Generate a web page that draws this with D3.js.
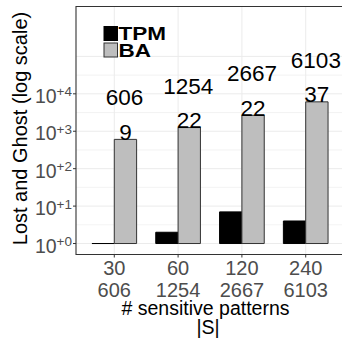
<!DOCTYPE html>
<html>
<head>
<meta charset="utf-8">
<script src="https://cdn.jsdelivr.net/npm/d3@7"></script>
<style>
  html, body { margin: 0; padding: 0; background: #fff; }
  svg { display: block; font-family: "Liberation Sans", Arial, Helvetica, sans-serif; }
</style>
</head>
<body>
<svg id="chart" width="342" height="339"></svg>
<script>
// ---- data ----
const categories = ["30", "60", "120", "240"];
const sizeLabels = ["606", "1254", "2667", "6103"];
const tpmValues = [1, 2, 7, 4];
const baValues = [606, 1254, 2667, 6103];
const ghostLabels = ["9", "22", "22", "37"];
const totalLabels = ["606", "1254", "2667", "6103"];
const yTickValues = [1, 10, 100, 1000, 10000];
const yTickExps = ["+0", "+1", "+2", "+3", "+4"];
const seriesNames = ["TPM", "BA"];

// ---- layout ----
const svg = d3.select("#chart");
const panel = { left: 76, right: 344, top: 6.5, bottom: 254.5 };
const gridColor = "#ebebeb";
const tickTextColor = "#4d4d4d";

const x = d3.scaleBand().domain(categories)
  .range([panel.left, panel.right]).paddingInner(0).paddingOuter(0.1);
const y = d3.scaleLog()
  .domain([Math.pow(10, -11 / 37.5), Math.pow(10, 237.5 / 37.5)])
  .range([panel.bottom, panel.top]);
const barW = x.step() * 0.35;
const xc = c => x(c) + x.bandwidth() / 2;

// grid
const g = svg.append("g");
const gridExps = d3.range(0, 5.01, 0.5);
g.selectAll("line.hgrid").data(gridExps).enter().append("line")
  .attr("x1", panel.left).attr("x2", panel.right)
  .attr("y1", e => y(Math.pow(10, e))).attr("y2", e => y(Math.pow(10, e)))
  .attr("stroke", gridColor).attr("stroke-width", e => Number.isInteger(e) ? 1 : 0.6);
g.selectAll("line.vgrid").data(categories).enter().append("line")
  .attr("x1", d => xc(d)).attr("x2", d => xc(d))
  .attr("y1", panel.top).attr("y2", panel.bottom)
  .attr("stroke", gridColor).attr("stroke-width", 1);

// bars
function barPath(x0, w, v) {
  const y0 = y(1), y1 = y(v);
  return `M${x0},${y0}V${y1}H${x0 + w}V${y0}Z`;
}
g.selectAll("path.tpm").data(categories).enter().append("path")
  .attr("d", (c, i) => barPath(xc(c) - barW, barW, tpmValues[i]))
  .attr("fill", "#000").attr("stroke", "#000").attr("stroke-width", 1);
g.selectAll("path.ba").data(categories).enter().append("path")
  .attr("d", (c, i) => barPath(xc(c), barW, baValues[i]))
  .attr("fill", "#bebebe").attr("stroke", "#333").attr("stroke-width", 1);

// value labels
g.selectAll("text.ghost").data(categories).enter().append("text")
  .attr("x", c => xc(c) + barW / 2)
  .attr("y", (c, i) => y(baValues[i]) + 0.5)
  .attr("text-anchor", "middle").attr("font-size", 22.5).attr("fill", "#000")
  .text((c, i) => ghostLabels[i]);
g.selectAll("text.total").data(categories).enter().append("text")
  .attr("x", c => xc(c) + barW / 2 - 1)
  .attr("y", (c, i) => y(baValues[i]) - 34)
  .attr("text-anchor", "middle").attr("font-size", 22.5).attr("fill", "#000")
  .text((c, i) => totalLabels[i]);

// panel border (left, top, bottom)
svg.append("path")
  .attr("d", `M${panel.right},${panel.top}H${panel.left}V${panel.bottom}H${panel.right}`)
  .attr("fill", "none").attr("stroke", "#333").attr("stroke-width", 1.1);

// y axis ticks + labels
const ya = svg.append("g");
yTickValues.forEach((v, i) => {
  const yy = y(v);
  ya.append("line").attr("x1", panel.left - 3).attr("x2", panel.left)
    .attr("y1", yy).attr("y2", yy).attr("stroke", "#333").attr("stroke-width", 1);
  const t = ya.append("text").attr("x", 72).attr("y", yy + 9)
    .attr("text-anchor", "end").attr("fill", tickTextColor).attr("font-size", 19.5);
  t.append("tspan").text("10");
  t.append("tspan").attr("font-size", 13.5).attr("dy", -6.5).text(yTickExps[i]);
});

// x axis ticks + labels
const xa = svg.append("g");
categories.forEach((c, i) => {
  xa.append("line").attr("x1", xc(c)).attr("x2", xc(c))
    .attr("y1", panel.bottom).attr("y2", panel.bottom + 3)
    .attr("stroke", "#333").attr("stroke-width", 1);
  const t = xa.append("text").attr("text-anchor", "middle")
    .attr("fill", tickTextColor).attr("font-size", 20);
  t.append("tspan").attr("x", xc(c)).attr("y", 275).text(c);
  t.append("tspan").attr("x", xc(c)).attr("y", 296.7).text(sizeLabels[i]);
});

// axis titles
svg.append("text").attr("x", 205.5).attr("y", 315)
  .attr("text-anchor", "middle").attr("font-size", 19.5).attr("fill", "#000")
  .text("# sensitive patterns");
svg.append("text").attr("x", 208).attr("y", 334)
  .attr("text-anchor", "middle").attr("font-size", 19.5).attr("fill", "#000")
  .text("|S|");
svg.append("text")
  .attr("transform", "translate(26.5,128.5) rotate(-90)")
  .attr("text-anchor", "middle").attr("font-size", 20).attr("fill", "#000")
  .text("Lost and Ghost (log scale)");

// legend
const leg = svg.append("g");
const legColors = ["#000", "#bebebe"];
const legStroke = ["#000", "#333"];
const legWidths = [47.5, 32.5];
seriesNames.forEach((s, i) => {
  const top = i === 0 ? 26.5 : 43;
  leg.append("rect").attr("x", 104).attr("y", top).attr("width", 13.5).attr("height", 14)
    .attr("fill", legColors[i]).attr("stroke", legStroke[i]).attr("stroke-width", 1);
  leg.append("text").attr("x", 118.5).attr("y", top + 13.6)
    .attr("font-size", 19).attr("font-weight", "bold").attr("fill", "#000")
    .attr("textLength", legWidths[i]).attr("lengthAdjust", "spacingAndGlyphs")
    .text(s);
});
</script>
</body>
</html>
